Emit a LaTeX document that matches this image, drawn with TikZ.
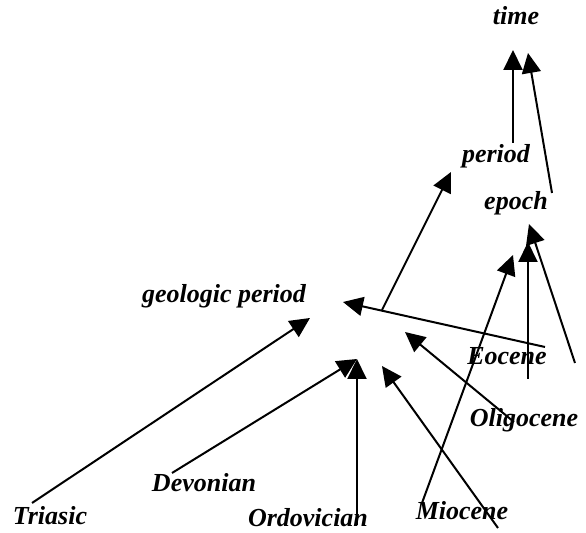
\documentclass[tikz,border=0pt]{standalone}
\usepackage{fontspec}
\setmainfont{Liberation Serif}
\usetikzlibrary{arrows.meta}
\begin{document}
\begin{tikzpicture}[x=0.5pt,y=-0.5pt,
  lbl/.style={font=\fontsize{13}{15}\selectfont\bfseries\itshape, inner sep=0pt, anchor=base},
  edge/.style={line width=1pt, -{Triangle[length=10pt,width=9.5pt]}}]
\useasboundingbox (0,0) rectangle (586,533);
% labels
\node[lbl] (time) at (516,25) {time};
\node[lbl] (period) at (496,163) {period};
\node[lbl] (epoch) at (516,210) {epoch};
\node[lbl] (geo) at (224,303) {geologic period};
\node[lbl] (eocene) at (507,365) {Eocene};
\node[lbl] (oligo) at (524,427) {Oligocene};
\node[lbl] (triasic) at (50,525) {Triasic};
\node[lbl] (devon) at (204,492) {Devonian};
\node[lbl] (ordo) at (308,527) {Ordovician};
\node[lbl] (mio) at (462,520) {Miocene};
% endpoints
\coordinate (timeA) at (513,50);
\coordinate (timeB) at (528,53);
\coordinate (periodOut) at (513,143);
\coordinate (periodIn) at (451,172);
\coordinate (epochOut) at (552,193);
\coordinate (epochA) at (513,255);
\coordinate (epochB) at (528,242);
\coordinate (epochC) at (529,224);
\coordinate (geoOut) at (382,310);
\coordinate (geoA) at (343,302);
\coordinate (geoB) at (405,332);
\coordinate (geoC) at (382,366);
\coordinate (geoD) at (310,318);
\coordinate (geoE) at (357,359);
\coordinate (eoceneA) at (545,347);
\coordinate (eoceneB) at (528,379);
\coordinate (oligoA) at (514,422);
\coordinate (oligoB) at (575,363);
\coordinate (mioA) at (498,528);
\coordinate (mioB) at (422,503);
\coordinate (triasicA) at (32,503);
\coordinate (devonA) at (172,473);
\coordinate (ordoA) at (357,525);
% edges
\draw[edge] (periodOut) -- (timeA);
\draw[edge] (epochOut) -- (timeB);
\draw[edge] (geoOut) -- (periodIn);
\draw[edge] (eoceneA) -- (geoA);
\draw[edge] (oligoA) -- (geoB);
\draw[edge] (mioA) -- (geoC);
\draw[edge] (mioB) -- (epochA);
\draw[edge] (eoceneB) -- (epochB);
\draw[edge] (oligoB) -- (epochC);
\draw[edge] (triasicA) -- (geoD);
\draw[edge] (devonA) -- (geoE);
\draw[edge] (ordoA) -- (geoE);
\end{tikzpicture}
\end{document}
